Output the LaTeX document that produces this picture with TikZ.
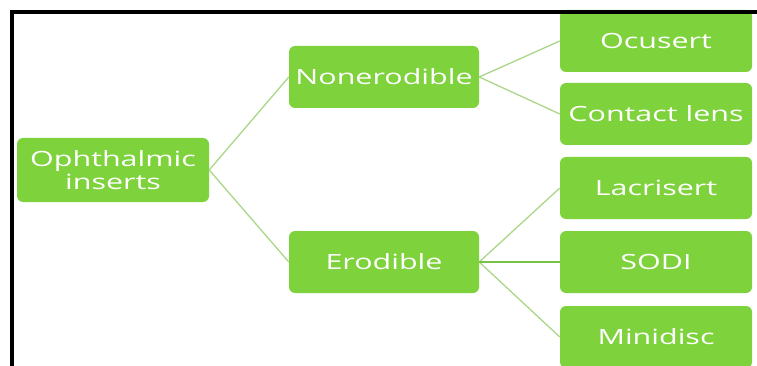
\documentclass[tikz,border=0pt]{standalone}
\usepackage{fontspec}
\setsansfont[FakeStretch=1.45]{Open Sans}
\usetikzlibrary{positioning}

\definecolor{insgreen}{RGB}{126,210,60}
\definecolor{inslink}{RGB}{170,214,135}
\definecolor{inslinkdark}{RGB}{120,192,70}

\begin{document}
\begin{tikzpicture}[x=1pt,y=-1pt,
		insbox/.style={fill=insgreen, rounded corners=6pt, minimum width=192pt,
			minimum height=62pt, inner sep=0pt, align=center, text=white,
			font=\sffamily\fontsize{21}{23}\selectfont},
		link/.style={draw=inslink, line width=1.3pt}]
	
	\useasboundingbox (0,0) rectangle (757,366);
	
	% ---------- Boxes ----------
	\node[insbox, minimum height=64pt] (root) at (113,170) {Ophthalmic\\inserts};
	\node[insbox, minimum width=190pt] (nonerod) at (384,77) {Nonerodible};
	\node[insbox, minimum width=190pt] (erod) at (384,262) {Erodible};
	
	\node[insbox] (ocusert) at (656,41) {Ocusert};
	\node[insbox] (contact) at (656,114) {Contact lens};
	\node[insbox] (lacri) at (656,188) {Lacrisert};
	\node[insbox] (sodi) at (656,262) {SODI};
	\node[insbox] (minidisc) at (656,337) {Minidisc};
	
	% ---------- Links ----------
	\foreach \a/\b in {root/nonerod, root/erod, nonerod/ocusert, nonerod/contact,
		erod/lacri, erod/minidisc} {
		\draw[link] (\a.east) -- (\b.west);
	}
	\draw[link, draw=inslinkdark] (erod.east) -- (sodi.west);
	
	% ---------- Frame ----------
	\draw[line width=4pt] (12,366) -- (12,12) -- (757,12);
	
\end{tikzpicture}
\end{document}
